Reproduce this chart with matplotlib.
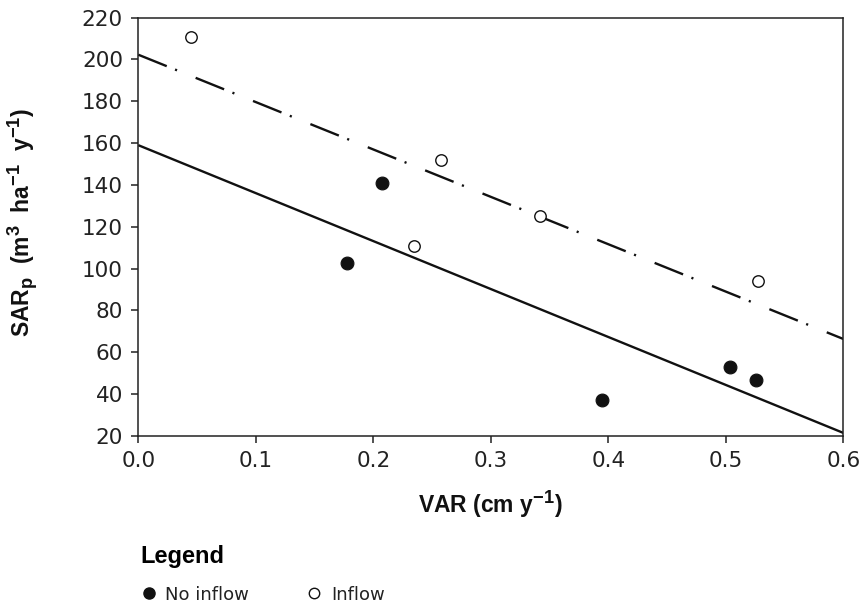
import matplotlib
matplotlib.use("Agg")
import numpy as np
import matplotlib.pyplot as plt
from matplotlib.lines import Line2D

try:
    import matplotlib._mathtext as _mt
    _mt.SHRINK_FACTOR = 0.8
except Exception:
    pass

# ---- data ----
no_inflow_var = [0.178, 0.207, 0.395, 0.504, 0.526]
no_inflow_sar = [102.5, 140.9, 37.2, 52.8, 46.8]
inflow_var = [0.045, 0.235, 0.258, 0.342, 0.527]
inflow_sar = [210.5, 110.8, 151.9, 125.3, 94.1]

x_ticks = [0.0, 0.1, 0.2, 0.3, 0.4, 0.5, 0.6]
y_ticks = [20, 40, 60, 80, 100, 120, 140, 160, 180, 200, 220]
series_labels = ["No inflow", "Inflow"]

plt.rcParams["font.family"] = ["DejaVu Sans"]
plt.rcParams["mathtext.default"] = "regular"

fig = plt.figure(figsize=(8.62, 6.04), dpi=100)
ax = fig.add_axes([0.1604, 0.2781, 0.9783 - 0.1604, 0.971 - 0.2781])

# regression lines fitted through each group
xl = np.array([x_ticks[0], x_ticks[-1]])
s1, b1 = np.polyfit(no_inflow_var, no_inflow_sar, 1)
s2, b2 = np.polyfit(inflow_var, inflow_sar, 1)
ax.plot(xl, s1 * xl + b1, color="#111111", lw=1.7, solid_capstyle="butt", zorder=2)
ax.plot(xl, s2 * xl + b2, color="#111111", lw=1.7,
        linestyle=(0, (13, 3.8, 0.9, 8.5)), dash_capstyle="butt", zorder=2)

ax.scatter(no_inflow_var, no_inflow_sar, s=85, color="#111111",
           edgecolor="#111111", linewidth=0.8, zorder=3, label=series_labels[0])
ax.scatter(inflow_var, inflow_sar, s=68, facecolor="white",
           edgecolor="#111111", linewidth=1.0, zorder=3, label=series_labels[1])

ax.set_xlim(x_ticks[0], x_ticks[-1])
ax.set_ylim(y_ticks[0], y_ticks[-1])
ax.set_xticks(x_ticks)
ax.set_xticklabels([f"{v:.1f}" for v in x_ticks])
ax.set_yticks(y_ticks)

for sp in ax.spines.values():
    sp.set_color("#222222")
    sp.set_linewidth(1.1)
ax.tick_params(axis="both", direction="out", length=5, width=1.1,
               color="#222222", labelsize=15.5, labelcolor="#222222", pad=6)

lab_font = dict(family=["Liberation Sans", "DejaVu Sans"], weight="bold", size=16.5, color="#111111")
ax.set_xlabel("VAR (cm y$^{-1}$)", labelpad=12, **lab_font)
ax.set_ylabel("SAR$_p$  (m$^3$  ha$^{-1}$  y$^{-1}$)", labelpad=8, **lab_font)
ax.yaxis.set_label_coords(-0.139, 0.51)

handles = [
    Line2D([], [], marker="o", linestyle="none", markersize=8.0,
           markerfacecolor="#111111", markeredgecolor="#111111"),
    Line2D([], [], marker="o", linestyle="none", markersize=7.5,
           markerfacecolor="white", markeredgecolor="#111111", markeredgewidth=1.0),
]
leg = fig.legend(handles, series_labels, loc="upper left",
                 bbox_to_anchor=(0.1631, 0.0985), bbox_transform=fig.transFigure,
                 ncol=2, frameon=False, title="Legend", alignment="left",
                 title_fontproperties=dict(family="Liberation Sans", weight="bold", size=17),
                 prop=dict(size=13), handletextpad=0.47, columnspacing=3.15,
                 handlelength=0.9, labelspacing=1.0, borderpad=0.0, borderaxespad=0.0)
for t in leg.get_texts():
    t.set_color("#222222")

fig.savefig("out.png", dpi=100)
